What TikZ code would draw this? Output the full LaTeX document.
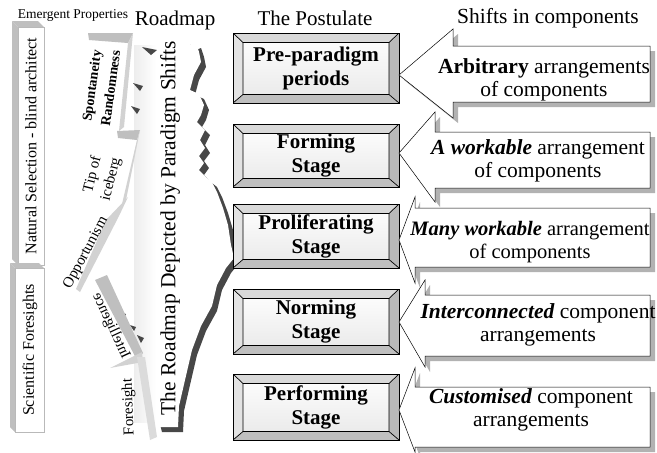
\documentclass[tikz,border=0pt]{standalone}
\usepackage{fontspec}
\setmainfont{Liberation Serif}
\usetikzlibrary{calc}

\newcommand\fsz[2]{\fontsize{#1}{#2}\selectfont}

% left-pointing callout: tip y, head base x, head top y, head bottom y, body top y, body bottom y
\newcommand\drawcallout[6]{%
  \fill[calloutshadow,shift={(5,5)}] (399,#1) -- (#2,#3) -- (#2,#5) -- (650,#5) -- (650,#6) -- (#2,#6) -- (#2,#4) -- cycle;
  \filldraw[calloutbody] (399,#1) -- (#2,#3) -- (#2,#5) -- (650,#5) -- (650,#6) -- (#2,#6) -- (#2,#4) -- cycle;
}

\tikzset{
  bevtop/.style={fill=gray!30},
  bevleft/.style={fill=gray!22},
  bevright/.style={fill=gray!55},
  bevbottom/.style={fill=gray!50},
  stagebox/.style={draw, line width=0.9pt, minimum width=166pt, minimum height=#1,
    inner sep=0pt, top color=white, bottom color=gray!18, align=center,
    font=\bfseries\fsz{21}{24},
    path picture={
      \path (path picture bounding box.north west) coordinate (bA)
            (path picture bounding box.north east) coordinate (bB)
            (path picture bounding box.south east) coordinate (bC)
            (path picture bounding box.south west) coordinate (bD);
      \path ($(bA)+(10pt,-9.5pt)$) coordinate (iA)
            ($(bB)+(-10pt,-9.5pt)$) coordinate (iB)
            ($(bC)+(-10pt,8.5pt)$) coordinate (iC)
            ($(bD)+(10pt,8.5pt)$) coordinate (iD);
      \fill[bevtop] (bA) -- (bB) -- (iB) -- (iA) -- cycle;
      \fill[bevleft] (bA) -- (iA) -- (iD) -- (bD) -- cycle;
      \fill[bevright] (bB) -- (bC) -- (iC) -- (iB) -- cycle;
      \fill[bevbottom] (bD) -- (iD) -- (iC) -- (bC) -- cycle;
      \draw[line width=0.7pt] (iA) -- (iB) -- (iC) -- (iD) -- cycle
            (bA) -- (iA) (bB) -- (iB) (bC) -- (iC) (bD) -- (iD);
    }},
  calloutshadow/.style={fill=gray!60},
  calloutbody/.style={fill=white, draw=black, line width=0.5pt},
  callouttext/.style={align=center, font=\fsz{21.5}{23}, inner sep=0pt},
  heading/.style={font=\fsz{21}{24}, inner sep=0pt},
  sidebox/.style={fill=white, draw=gray!55, line width=0.4pt},
  sideextrude/.style={fill=gray!50},
  slabtop/.style={fill=gray!50},
  slabside/.style={fill=gray!35},
  slabtext/.style={font=\fsz{15}{19}, inner sep=0pt, align=center},
  roadedge/.style={fill=black!72},
}

\begin{document}
\begin{tikzpicture}[x=1pt,y=-1pt]
\useasboundingbox (0,0) rectangle (657,453);

% ---- headings ----
\node[font=\fsz{13.5}{15}, inner sep=0pt] (hEmerg) at (73,15) {Emergent Properties};
\node[heading] (hRoad) at (175,20) {Roadmap};
\node[heading] (hPost) at (315,18) {The Postulate};
\node[heading, font=\fsz{21.5}{24}] (hShift) at (548,18) {Shifts in components};

% ---- the road: white sheet with a dark extruded right edge ----
\def\roadoutline{(145,35) -- (186,40) -- (191,45) -- (196,43) -- (199,52) -- (201,62)
  -- (194,75) -- (190,90) -- (199,94) -- (204,105) -- (201,115) -- (197,122)
  -- (205,130) -- (200,140) -- (205,148) -- (199,156) -- (204,163) -- (199,170)
  -- (207,178) -- (212,182) -- (217,192) -- (223,208) -- (228,225) -- (231,245)
  -- (234,258) -- (226,268) -- (217,285) -- (212,306) -- (201,326) -- (192,350)
  -- (185,380) -- (179,406) -- (178,427) -- (157,427) -- (150,400) -- (143,365)
  -- (138,330) -- (128,290) -- (124,220) -- (134,130) -- (130,40) -- cycle}
\fill[roadedge, shift={(5,5)}] \roadoutline;
\fill[white] \roadoutline;
% soft haze along the left rim of the road
\shade[left color=gray!14, right color=white] (134,45) rectangle (156,422);

% small dark notches along the left rim of the road
\fill[roadedge] (142,47) -- (157,50) -- (151,55) -- cycle;
\fill[roadedge] (133,83) -- (143,86) -- (140,91) -- cycle;
\fill[roadedge] (131,106) -- (140,109) -- (137,114) -- cycle;
\fill[roadedge] (120,312) -- (126,314) -- (124,318) -- cycle;
\fill[roadedge] (130,325) -- (136,327) -- (134,331) -- cycle;
\fill[roadedge] (137,335) -- (144,338) -- (141,343) -- cycle;

\node[font=\fsz{21.5}{24}, inner sep=0pt, rotate=90] (roadtxt) at (170,228)
  {The Roadmap Depicted by Paradigm Shifts};

% ---- tilted slabs of emergent properties ----
% Spontaneity / Randomness
\fill[white] (89,40) -- (128,43) -- (119,131) -- (80,127) -- cycle;
\fill[slabtop] (88,33) -- (133,33) -- (128,43) -- (89,40) -- cycle;
\fill[slabside] (128,43) -- (133,33) -- (124,127) -- (119,131) -- cycle;
\node[font=\bfseries\fsz{14}{19}, inner sep=0pt, align=center, rotate=82] (spont) at (101,87)
  {Spontaneity\\Randomness};

% Tip of iceberg
\fill[white] (84,137) -- (137,140) -- (122,204) -- (74,208) -- cycle;
\fill[slabtop] (117,131) -- (140,130) -- (137,140) -- (118,138) -- cycle;
\fill[slabside] (137,140) -- (140,130) -- (126,200) -- (122,204) -- cycle;
\node[slabtext, rotate=76] (tip) at (102,177) {Tip of\\iceberg};

% Opportunism
\fill[slabside] (106,220) -- (128,197) -- (119,216) -- (80,292) -- (76,289) -- cycle;
\node[slabtext, rotate=62] (opport) at (86,253) {Opportunism};

% Intelligence (seen from behind)
\fill[slabtop] (95,280) -- (107,275) -- (143,353) -- (137,360) -- cycle;
\fill[gray!35] (110,368) -- (142,352) -- (143,362) -- cycle;
\node[slabtext, rotate=115] (intel) at (111,326) {\scalebox{1}[-1]{Intelligence}};

% Foresight
\fill[gray!28] (137,357) -- (145,357) -- (157,437) -- (150,440) -- cycle;
\node[slabtext, rotate=92] (fore) at (129,407) {Foresight};

% ---- side bars ----
\fill[sideextrude] (18,27) -- (12,21) -- (38,21) -- (44,27) -- cycle;
\fill[sideextrude] (12,21) -- (18,27) -- (18,265) -- (12,259) -- cycle;
\filldraw[sidebox] (18,27) rectangle (44,265);
\node[font=\fsz{16}{18}, inner sep=0pt, rotate=90] (natsel) at (31,146)
  {Natural Selection - blind architect};

\fill[sideextrude] (15,268) -- (10,263) -- (39,263) -- (44,268) -- cycle;
\fill[sideextrude] (10,263) -- (15,268) -- (15,432) -- (10,427) -- cycle;
\filldraw[sidebox] (15,268) rectangle (44,432);
\node[font=\fsz{16}{18}, inner sep=0pt, rotate=90] (scifore) at (30,350)
  {Scientific Foresights};

% ---- the postulate: five stages ----
\node[stagebox=70pt] (s1) at (316,68) {Pre-paradigm\\periods};
\node[stagebox=63pt] (s2) at (316,155.5) {Forming\\Stage};
\node[stagebox=64pt] (s3) at (316,236) {Proliferating\\Stage};
\node[stagebox=65pt] (s4) at (316,321.5) {Norming\\Stage};
\node[stagebox=66pt] (s5) at (316,407) {Performing\\Stage};

% ---- shifts in components: callouts pointing at the stages ----
\drawcallout{75}{453}{29}{118}{46}{102}
\node[callouttext] (c1) at (544,80) {\textbf{Arbitrary} arrangements\\of components};

\drawcallout{153}{435}{112}{202}{132}{188}
\node[callouttext] (c2) at (538,161) {\textbf{\itshape A workable} arrangement\\of components};

\drawcallout{240}{415}{197}{283}{208}{267}
\node[callouttext, font=\fsz{20.5}{23}] (c3) at (530,242) {\textbf{\itshape Many workable} arrangement\\of components};

\drawcallout{322}{425}{280}{367}{295}{356}
\node[callouttext] (c4) at (538,325) {\textbf{\itshape Interconnected} component\\arrangements};

\drawcallout{410}{415}{368}{452}{387}{447}
\node[callouttext] (c5) at (531,410) {\textbf{\itshape Customised} component\\arrangements};

\end{tikzpicture}
\end{document}
